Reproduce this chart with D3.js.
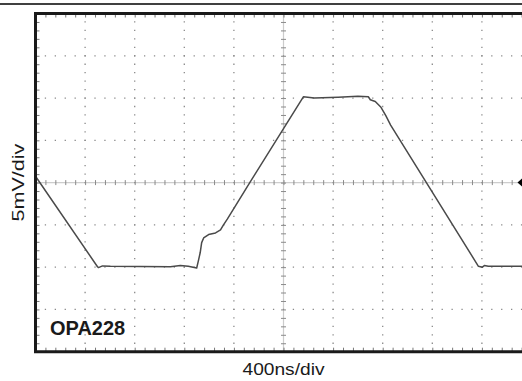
<!DOCTYPE html>
<html>
<head>
<meta charset="utf-8">
<script src="https://cdn.jsdelivr.net/npm/d3@7"></script>
<style>
	html, body { margin: 0; padding: 0; background: #fff; }
	svg { display: block; font-family: Arial, "Liberation Sans", sans-serif; }
</style>
</head>
<body>
<div id="chartDiv"></div>
<script>
// trace, in scope divisions (x: 0..10, y: -4..4)
const traceX = [0, 1.25, 1.27, 1.35, 1.51, 2.72, 2.92, 3.08, 3.25, 3.28, 3.32, 3.35, 3.39, 3.49, 3.63, 3.73, 3.79, 3.87,
	4.32, 5.40, 5.62, 6.10, 6.50, 6.71, 6.75, 6.85, 6.96, 7.06, 7.16, 8.93, 9.01, 9.05, 9.13, 9.82];
const traceY = [0.15, -1.99, -2.01, -1.97, -1.98, -1.99, -1.96, -1.98, -2.02, -1.87, -1.66, -1.42, -1.31, -1.23, -1.19, -1.12, -1.0, -0.86,
	0.0, 2.03, 2.0, 2.02, 2.04, 2.03, 1.96, 1.92, 1.79, 1.59, 1.36, -1.98, -2.0, -1.96, -1.98, -1.98];

const xDivs = d3.range(0, 11);
const yDivs = d3.range(-4, 5);
const xMinor = d3.range(0, 51).map(i => i / 5);
const yMinor = d3.range(-20, 21).map(i => i / 5);

const xAxisLabel = "400ns/div";
const yAxisLabel = "5mV/div";
const deviceLabel = "OPA228";

;(function() {
	var width = 522, height = 381;
	var plot = { left: 35.5, right: 531.5, top: 13.5, bottom: 351.7 };

	var svg = d3.select("#chartDiv").append("svg")
		.attr("width", width)
		.attr("height", height);

	var x = d3.scaleLinear().domain([0, 10]).range([plot.left, plot.right]);
	var y = d3.scaleLinear().domain([-4, 4]).range([plot.bottom, plot.top]);

	// rule across the top of the figure
	svg.append("line")
		.attr("x1", 0).attr("x2", width)
		.attr("y1", 4).attr("y2", 4)
		.attr("stroke", "#000").attr("stroke-width", 1.5);

	var grid = svg.append("g");

	// dotted division lines
	var xStep = x(0.2) - x(0);
	var yStep = y(-0.2) - y(0);
	grid.selectAll(".vgrid")
		.data(xDivs.filter(d => d !== 0 && d !== 5))
		.enter().append("line")
			.attr("x1", d => x(d)).attr("x2", d => x(d))
			.attr("y1", y(4)).attr("y2", y(-4))
			.attr("stroke", "#8a8a8a").attr("stroke-width", 1.3)
			.attr("stroke-dasharray", "1.3," + (yStep - 1.3))
			.attr("stroke-dashoffset", 0.65);
	grid.selectAll(".hgrid")
		.data(yDivs.filter(d => d !== 0 && Math.abs(d) !== 4))
		.enter().append("line")
			.attr("x1", x(0)).attr("x2", x(10))
			.attr("y1", d => y(d)).attr("y2", d => y(d))
			.attr("stroke", "#8a8a8a").attr("stroke-width", 1.3)
			.attr("stroke-dasharray", "1.3," + (xStep - 1.3))
			.attr("stroke-dashoffset", 0.65);

	// centre axes: dense dots plus minor ticks
	grid.append("line")
		.attr("x1", x(0)).attr("x2", x(10)).attr("y1", y(0)).attr("y2", y(0))
		.attr("stroke", "#9a9a9a").attr("stroke-width", 1.2).attr("stroke-dasharray", "1,1");
	grid.append("line")
		.attr("x1", x(5)).attr("x2", x(5)).attr("y1", y(4)).attr("y2", y(-4))
		.attr("stroke", "#9a9a9a").attr("stroke-width", 1.2).attr("stroke-dasharray", "1,1");

	var centreX = d3.axisBottom(x).tickValues(xMinor).tickSize(5).tickSizeOuter(0).tickFormat("");
	var centreY = d3.axisLeft(y).tickValues(yMinor).tickSize(5).tickSizeOuter(0).tickFormat("");
	grid.append("g")
		.attr("transform", "translate(0," + (y(0) - 2.5) + ")")
		.call(centreX)
		.call(g => g.select(".domain").remove())
		.call(g => g.selectAll("line").attr("stroke", "#8a8a8a"));
	grid.append("g")
		.attr("transform", "translate(" + (x(5) + 2.5) + ",0)")
		.call(centreY)
		.call(g => g.select(".domain").remove())
		.call(g => g.selectAll("line").attr("stroke", "#8a8a8a"));

	// frame ticks
	var frameTicks = [
		{ axis: d3.axisBottom(x).tickValues(xMinor), t: "translate(0," + y(4) + ")" },
		{ axis: d3.axisTop(x).tickValues(xMinor), t: "translate(0," + y(-4) + ")" },
		{ axis: d3.axisRight(y).tickValues(yMinor), t: "translate(" + x(0) + ",0)" }
	];
	frameTicks.forEach(function(f) {
		grid.append("g")
			.attr("transform", f.t)
			.call(f.axis.tickSize(4).tickSizeOuter(0).tickFormat(""))
			.call(g => g.select(".domain").remove())
			.call(g => g.selectAll("line").attr("stroke", "#777"));
	});

	// trace
	var traceData = traceX.map((d, i) => ({ xVal: d, yVal: traceY[i] }));
	svg.append("path")
		.datum(traceData)
		.attr("fill", "none")
		.attr("stroke", "#4a4a4a")
		.attr("stroke-width", 1.5)
		.attr("stroke-linejoin", "round")
		.attr("d", d3.line().x(d => x(d.xVal)).y(d => y(d.yVal)));

	// frame
	svg.append("path")
		.attr("fill", "none")
		.attr("stroke", "#1a1a1a")
		.attr("stroke-width", 3)
		.attr("d", "M" + width + "," + y(4) + "H" + x(0) + "V" + y(-4) + "H" + width);

	// trigger marker on the right edge
	svg.append("path")
		.attr("fill", "#000")
		.attr("d", "M" + (width - 4.5) + "," + y(0) + "L" + width + "," + (y(0) - 4) + "L" + width + "," + (y(0) + 4) + "Z");

	// labels
	svg.append("text")
		.attr("x", 50).attr("y", 335)
		.style("font-size", "20px").style("font-weight", "bold")
		.attr("fill", "#1a1a1a")
		.text(deviceLabel);

	svg.append("text")
		.attr("text-anchor", "middle")
		.attr("x", x(5)).attr("y", 375)
		.style("font-size", "16px")
		.attr("fill", "#1a1a1a")
		.attr("textLength", 82).attr("lengthAdjust", "spacingAndGlyphs")
		.text(xAxisLabel);

	svg.append("text")
		.attr("text-anchor", "middle")
		.attr("transform", "translate(24," + y(0) + ") rotate(-90)")
		.style("font-size", "16px")
		.attr("fill", "#1a1a1a")
		.attr("textLength", 78).attr("lengthAdjust", "spacingAndGlyphs")
		.text(yAxisLabel);
})();
</script>
</body>
</html>
